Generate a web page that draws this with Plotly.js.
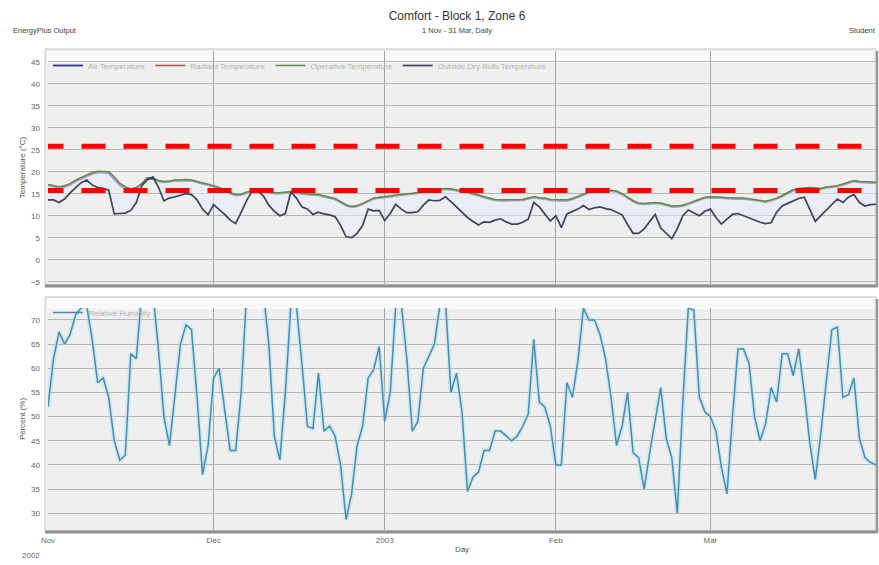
<!DOCTYPE html>
<html><head><meta charset="utf-8">
<script src="https://cdn.plot.ly/plotly-3.0.1.min.js"></script>
<style>html,body{margin:0;padding:0;background:#fff}#chart{width:879px;height:565px}</style>
</head><body><div id="chart"></div>
<script>
// ---- data ----
const startYear = 2002, startMonth = 10, startDay = 1; // 1 Nov 2002 (JS month index)
const tickDates = ['2002-11-01','2002-12-01','2003-01-01','2003-02-01','2003-03-01'];
const tickLabels = ['Nov','Dec','2003','Feb','Mar'];
const tempTicks = [-5,0,5,10,15,20,25,30,35,40,45];
const rhTicks = [30,35,40,45,50,55,60,65,70];
const comfortUpper = 25.8;
const comfortLower = 15.7;

const airTemp = [16.9,16.7,16.4,16.5,17.0,17.8,18.4,19.0,19.5,19.8, 19.8,19.6,18.3,16.9,16.2,15.8,16.2,17.2,18.5,18.4,
 17.8,17.6,17.7,17.9,17.9,18.0,17.9,17.6,17.2,16.9, 16.6,16.2,15.7,15.0,14.6,14.7,15.2,15.5,15.7,15.5,
 15.3,15.0,15.0,15.1,15.3,15.1,14.9,14.8,14.7,14.6, 14.3,14.0,13.7,13.0,12.3,11.9,12.1,12.6,13.2,13.8,
 14.0,14.1,14.3,14.5,14.7,14.8,14.9,15.1,15.3,15.5, 15.6,15.9,16.0,15.9,15.6,15.4,15.2,14.9,14.5,14.1,
 13.8,13.5,13.4,13.4,13.4,13.4,13.5,13.8,14.1,13.9, 13.8,13.5,13.4,13.4,13.4,13.7,14.2,14.7,15.2,15.4,
 15.5,15.6,15.6,15.4,14.8,14.0,13.2,12.7,12.6,12.7, 12.8,12.7,12.3,12.0,12.0,12.2,12.6,13.1,13.6,14.0,
 14.1,14.1,14.0,13.9,13.8,13.8,13.8,13.6,13.4,13.2, 13.1,13.4,13.8,14.4,15.1,15.7,16.0,16.1,16.2,16.1,
 16.0,16.3,16.5,16.6,17.0,17.4,17.8,17.6,17.5,17.5, 17.4];

const radiantTemp = [17.0,16.8,16.5,16.7,17.2,18.0,18.6,19.2,19.7,20.0, 20.0,19.9,18.7,17.3,16.5,16.0,16.3,17.2,18.5,18.5,
 17.9,17.7,17.8,18.0,18.0,18.1,18.0,17.7,17.3,17.0, 16.7,16.3,15.8,15.1,14.7,14.8,15.3,15.6,15.8,15.6,
 15.4,15.1,15.1,15.2,15.4,15.2,15.0,14.9,14.8,14.7, 14.4,14.1,13.8,13.1,12.4,12.0,12.2,12.7,13.3,13.9,
 14.1,14.2,14.4,14.6,14.8,14.9,15.0,15.2,15.4,15.6, 15.7,16.0,16.1,16.0,15.7,15.5,15.3,15.0,14.6,14.2,
 13.9,13.6,13.5,13.5,13.5,13.5,13.6,13.9,14.2,14.0, 13.9,13.6,13.5,13.5,13.5,13.8,14.3,14.8,15.3,15.5,
 15.6,15.7,15.7,15.5,14.9,14.1,13.3,12.8,12.7,12.8, 12.9,12.8,12.4,12.1,12.1,12.3,12.7,13.2,13.7,14.1,
 14.2,14.2,14.1,14.0,13.9,13.9,13.9,13.7,13.5,13.3, 13.2,13.5,13.9,14.5,15.2,15.8,16.1,16.2,16.3,16.2,
 16.1,16.4,16.6,16.7,17.1,17.5,17.9,17.7,17.6,17.6, 17.5];

const operativeTemp = [17.1,16.9,16.6,16.8,17.3,18.1,18.7,19.3,19.8,20.1, 20.1,20.0,18.8,17.4,16.6,16.1,16.4,17.3,18.6,18.6,
 18.0,17.8,17.9,18.1,18.1,18.2,18.1,17.8,17.4,17.1, 16.8,16.4,15.9,15.2,14.8,14.9,15.4,15.7,15.9,15.7,
 15.5,15.2,15.2,15.3,15.5,15.3,15.1,15.0,14.9,14.8, 14.5,14.2,13.9,13.2,12.5,12.1,12.3,12.8,13.4,14.0,
 14.2,14.3,14.5,14.7,14.9,15.0,15.1,15.3,15.5,15.7, 15.8,16.1,16.2,16.1,15.8,15.6,15.4,15.1,14.7,14.3,
 14.0,13.7,13.6,13.6,13.6,13.6,13.7,14.0,14.3,14.1, 14.0,13.7,13.6,13.6,13.6,13.9,14.4,14.9,15.4,15.6,
 15.7,15.8,15.8,15.6,15.0,14.2,13.4,12.9,12.8,12.9, 13.0,12.9,12.5,12.2,12.2,12.4,12.8,13.3,13.8,14.2,
 14.3,14.3,14.2,14.1,14.0,14.0,14.0,13.8,13.6,13.4, 13.3,13.6,14.0,14.6,15.3,15.9,16.2,16.3,16.4,16.3,
 16.2,16.5,16.7,16.8,17.2,17.6,18.0,17.8,17.7,17.7, 17.6];

const outsideTemp = [13.6,13.6,13.0,13.8,15.2,16.3,17.5,18.1,17.0,16.4, 16.2,15.8,10.4,10.5,10.6,11.2,13.0,16.8,18.2,18.8,
 16.5,13.4,14.0,14.3,14.6,15.0,14.8,13.6,11.5,10.2, 12.5,11.5,10.3,9.0,8.2,10.8,13.5,15.6,15.6,14.5,
 12.4,11.0,10.0,10.5,15.4,14.0,12.0,11.5,10.3,10.8, 10.4,10.2,9.8,7.8,5.2,5.0,6.0,7.8,11.5,11.1,
 11.2,8.9,10.5,12.6,11.5,10.7,10.7,10.9,12.4,13.6, 13.4,13.5,14.3,13.2,12.0,10.8,9.6,8.7,7.9,8.6,
 8.5,9.0,9.3,8.6,8.1,8.1,8.5,9.2,13.0,12.0, 10.3,8.8,10.0,7.3,10.4,10.9,11.5,12.3,11.4,11.8,
 12.0,11.6,11.4,10.8,10.2,8.0,6.0,6.0,7.0,8.7, 10.3,7.2,6.0,4.8,7.0,10.0,11.3,10.6,10.0,11.0,
 11.5,9.6,8.1,9.2,10.3,10.5,10.0,9.4,9.0,8.5, 8.2,8.4,10.8,12.2,12.8,13.4,13.9,14.2,11.5,8.7,
 10.0,11.3,12.7,13.8,13.0,14.2,14.8,13.0,12.2,12.5, 12.6];

const relHumidity = [52,62,67.5,65,67,71,72.5,73,66,57, 58,54,45,41,42,63,62,76,78,76,
 64,50,44,54,65,69,68,54,38,44, 58,60,52,43,43,55,76,79,78,76,
 65,46,41,55,73,73,61,48,47.5,59, 47,48,46,40,28.7,34,44,48,58,59.7,
 64.5,49,55,73,73.5,62,47,49,60,62.5, 65,73,74,55,59,51,34.5,37.5,38.5,43,
 43,47,47,46,45,46,48,50.5,66,53, 52,48,40,40,57,54,61.5,72.5,70,70,
 67,62,54,44,48,55,42.5,41.5,35,42.5, 49,56,45.5,41.5,30,53,72.5,72,54,51,
 50,47,39.5,34,50,64,64,61,50,45, 48.5,56,53,63,63,58.5,64,55,44.5,37,
 46.5,58,68,68.5,54,54.5,58,45.5,41.5,40.5, 40];

const days = airTemp.map((_, i) => new Date(Date.UTC(startYear, startMonth, startDay + i)).toISOString().slice(0, 10));

// ---- traces ----
const traces = [
  {x: days, y: airTemp, type: 'scatter', mode: 'lines', name: 'Air Temperature', xaxis: 'x', yaxis: 'y',
   line: {color: '#33338f', width: 1.8}, legend: 'legend'},
  {x: days, y: radiantTemp, type: 'scatter', mode: 'lines', name: 'Radiant Temperature', xaxis: 'x', yaxis: 'y',
   line: {color: '#a8524a', width: 1.5}, legend: 'legend'},
  {x: days, y: operativeTemp, type: 'scatter', mode: 'lines', name: 'Operative Temperature', xaxis: 'x', yaxis: 'y',
   line: {color: '#5a8c4c', width: 1.5}, legend: 'legend'},
  {x: days, y: outsideTemp, type: 'scatter', mode: 'lines', name: 'band', xaxis: 'x', yaxis: 'y',
   line: {width: 0}, fill: 'tonexty', fillcolor: 'rgba(232,235,252,0.55)', showlegend: false, hoverinfo: 'skip'},
  {x: days, y: outsideTemp, type: 'scatter', mode: 'lines', name: 'Outside Dry-Bulb Temperature', xaxis: 'x', yaxis: 'y',
   line: {color: '#3e4262', width: 1.7}, legend: 'legend'},
  {x: days, y: relHumidity, type: 'scatter', mode: 'lines', name: 'halo', xaxis: 'x2', yaxis: 'y2',
   line: {color: 'rgba(178,226,246,0.55)', width: 4.5}, showlegend: false, hoverinfo: 'skip'},
  {x: days, y: relHumidity, type: 'scatter', mode: 'lines', name: 'Relative Humidity', xaxis: 'x2', yaxis: 'y2',
   line: {color: '#4a8cae', width: 1.5}, legend: 'legend2'}
];

// ---- layout helpers (pixel -> paper) ----
const L = 48, R = 3, T = 51, B = 35, W = 879, H = 565;
const pw = W - L - R, ph = H - T - B;
const px = v => (v - L) / pw;
const py = v => (H - B - v) / ph;

const frame = (y0, y1) => ([
  {type: 'rect', xref: 'paper', yref: 'paper', x0: px(45), x1: px(876), y0: py(y1), y1: py(y0),
   fillcolor: '#eeefee', line: {color: '#c6c6c6', width: 1}, layer: 'below'},
  {type: 'line', xref: 'paper', yref: 'paper', x0: px(45), x1: px(877.5), y0: py(y1 + 1), y1: py(y1 + 1),
   line: {color: '#8e8e8e', width: 3}, layer: 'below'},
  {type: 'line', xref: 'paper', yref: 'paper', x0: px(877), x1: px(877), y0: py(y1 + 2), y1: py(y0 + 2),
   line: {color: '#9a9a9a', width: 2.5}, layer: 'below'}
]);

const shapes = [
  ...frame(49, 285),
  ...frame(297, 531),
  {type: 'rect', xref: 'paper', yref: 'paper', x0: px(47), x1: px(874), y0: py(63), y1: py(51),
   fillcolor: 'rgba(250,250,250,0.85)', line: {width: 0}, layer: 'below'},
  {type: 'rect', xref: 'paper', yref: 'paper', x0: px(47), x1: px(874), y0: py(309), y1: py(298),
   fillcolor: 'rgba(250,250,250,0.85)', line: {width: 0}, layer: 'below'},
  {type: 'line', xref: 'x', yref: 'y', x0: '2002-10-30 11:00', x1: '2003-04-05', y0: comfortUpper, y1: comfortUpper,
   line: {color: '#ff0000', width: 5, dash: '24px,18px'}},
  {type: 'line', xref: 'x', yref: 'y', x0: '2002-10-30 11:00', x1: '2003-04-05', y0: comfortLower, y1: comfortLower,
   line: {color: '#ff0000', width: 5, dash: '24px,18px'}}
];

const axisFont = {family: 'Liberation Sans, Arial, sans-serif', size: 8, color: '#666'};
const xr = ['2002-11-01', '2003-03-31'];

const layout = {
  width: W, height: H,
  margin: {l: L, r: R, t: T, b: B},
  paper_bgcolor: '#ffffff', plot_bgcolor: 'rgba(0,0,0,0)',
  font: {family: 'Liberation Sans, Arial, sans-serif', size: 8, color: '#555'},
  title: {text: 'Comfort - Block 1, Zone 6', x: 457 / W, y: 1 - 16 / H, xanchor: 'center', yanchor: 'middle',
          font: {size: 12, color: '#333'}},
  xaxis: {domain: [0, 1], anchor: 'y', type: 'date', range: xr, tickvals: tickDates, showticklabels: false,
          showgrid: true, gridcolor: '#a4a4a4', gridwidth: 1, zeroline: false, showline: false, ticks: '', fixedrange: true},
  yaxis: {domain: [py(284), 1], anchor: 'x', range: [-5.52, 47.43], tickvals: tempTicks,
          showgrid: true, gridcolor: '#b6b6b6', gridwidth: 1, zeroline: false, showline: false, ticks: '',
          ticklabelstandoff: 7, tickfont: axisFont,
          title: {text: 'Temperature (°C)', font: {size: 8, color: '#555'}, standoff: 4}},
  xaxis2: {domain: [0, 1], anchor: 'y2', type: 'date', range: xr, tickvals: tickDates, ticktext: tickLabels,
           showgrid: true, gridcolor: '#a4a4a4', gridwidth: 1, zeroline: false, showline: false, ticks: '',
           tickfont: axisFont, ticklabelstandoff: 4,
           title: {text: 'Day', font: {size: 8, color: '#555'}, standoff: 2}},
  yaxis2: {domain: [0, py(308)], anchor: 'x2', range: [26.52, 72.48], tickvals: rhTicks,
           showgrid: true, gridcolor: '#b6b6b6', gridwidth: 1, zeroline: false, showline: false, ticks: '',
           ticklabelstandoff: 7, tickfont: axisFont,
           title: {text: 'Percent (%)', font: {size: 8, color: '#555'}, standoff: 4}},
  legend: {orientation: 'h', x: px(48), y: py(51), xanchor: 'left', yanchor: 'top', traceorder: 'normal',
           bgcolor: 'rgba(0,0,0,0)', font: {size: 8, color: '#b4b4b4'}, itemwidth: 30, tracegroupgap: 0},
  legend2: {orientation: 'h', x: px(48), y: py(298), xanchor: 'left', yanchor: 'top', traceorder: 'normal',
           bgcolor: 'rgba(0,0,0,0)', font: {size: 8, color: '#b4b4b4'}, itemwidth: 30},
  shapes: shapes,
  annotations: [
    {text: '1 Nov - 31 Mar, Daily', xref: 'paper', yref: 'paper', x: px(457), y: py(31), showarrow: false,
     xanchor: 'center', yanchor: 'middle', font: {size: 7.5, color: '#444'}},
    {text: 'EnergyPlus Output', xref: 'paper', yref: 'paper', x: px(11), y: py(31), showarrow: false,
     xanchor: 'left', yanchor: 'middle', font: {size: 7.5, color: '#444'}},
    {text: 'Student', xref: 'paper', yref: 'paper', x: px(878), y: py(31), showarrow: false,
     xanchor: 'right', yanchor: 'middle', font: {size: 7.5, color: '#444'}},
    {text: '2002', xref: 'paper', yref: 'paper', x: px(31), y: py(555), showarrow: false,
     xanchor: 'center', yanchor: 'middle', font: {size: 8, color: '#666'}}
  ]
};

Plotly.newPlot('chart', traces, layout, {displayModeBar: false, staticPlot: true});
</script>
</body></html>
